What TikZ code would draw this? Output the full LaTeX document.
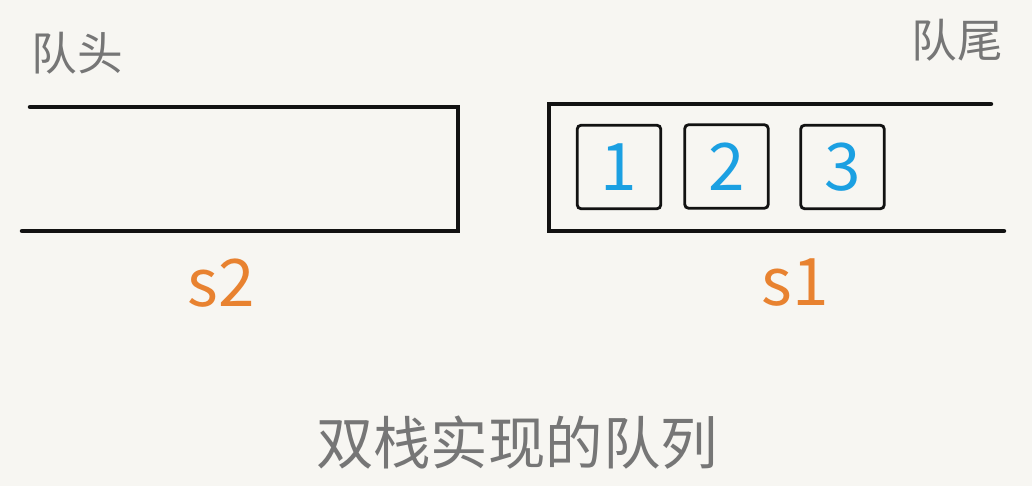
\documentclass[tikz,border=0pt]{standalone}
\usepackage{fontspec}
\setmainfont{Noto Sans CJK SC}
\usetikzlibrary{positioning}
\definecolor{qbg}{RGB}{247,246,242}
\definecolor{qink}{RGB}{18,18,18}
\definecolor{qgrey}{RGB}{118,118,118}
\definecolor{qblue}{RGB}{27,160,226}
\definecolor{qorange}{RGB}{232,130,48}

\begin{document}
\begin{tikzpicture}[x=0.03cm,y=-0.03cm,
  wall/.style={line width=3.8pt,color=qink,line cap=round},
  cell/.style={draw=qink,line width=2.4pt,rounded corners=3pt,minimum size=2.5cm,inner sep=0pt,text=qblue,font=\fontsize{56}{56}\selectfont},
  tag/.style={text=qgrey,font=\fontsize{39}{39}\selectfont,inner sep=0pt},
  sname/.style={text=qorange,font=\fontsize{56}{56}\selectfont,inner sep=0pt}]
\fill[qbg] (0,0) rectangle (1032,486);
\useasboundingbox (0,0) rectangle (1032,486);
% s2: open on the left (queue head)
\draw[wall] (30,107) -- (458,107) -- (458,231) -- (22,231);
% s1: open on the right (queue tail)
\draw[wall] (991,104) -- (549,104) -- (549,231) -- (1004,231);
\node[cell] (c1) at (619,167) {1};
\node[cell] (c2) at (726.5,166.5) {2};
\node[cell] (c3) at (842.5,167) {3};
\node[tag] (head) at (77,53) {队头};
\node[tag] (tail) at (957,40) {队尾};
\node[sname] (s2) at (221,283) {s2};
\node[sname] (s1) at (795,283) {s1};
\node[tag,font=\fontsize{49}{49}\selectfont] (title) at (517,443) {双栈实现的队列};
\end{tikzpicture}
\end{document}
